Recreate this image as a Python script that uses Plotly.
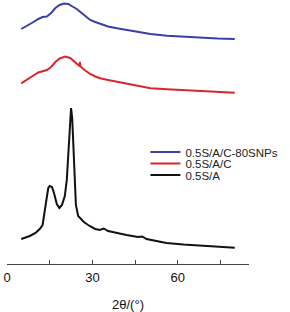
import plotly.graph_objects as go

# ---- data (intensities in arbitrary, offset units) ----
x_blue = [5, 7, 9, 11, 12.5, 14, 15.5, 17, 18.5, 20, 21.5, 23, 24.5, 26, 27.5,
          29.2, 31, 32.7, 35.5, 38.6, 44.4, 50.4, 56.2, 62, 68, 74, 80]
y_blue = [235, 238, 241.5, 245, 247, 247.5, 251, 256, 259, 260.5, 260, 257.5, 255,
          251.5, 248, 244, 242, 240, 237.5, 235.7, 233, 230, 228.3, 227.2, 226.3,
          225.5, 225]

x_red = [5, 7, 9, 11, 12.5, 14, 15.5, 17, 18.5, 20.4, 22.2, 24, 25.4, 25.6, 25.8,
         27.5, 29.2, 31, 32.7, 35.5, 38.6, 44.4, 50.4, 56.2, 62, 68, 74, 80]
y_red = [180.7, 184, 188, 191.5, 193, 194, 197, 202, 205.5, 207.5, 206, 201, 198,
         202, 197.5, 193.5, 190, 187.5, 185.7, 184, 182.3, 179, 175.7, 174.7,
         173.8, 173, 172, 171.3]

x_black = [5, 8, 10, 11.5, 12.5, 13.3, 14, 14.5, 15, 15.8, 16.5, 17.5, 18.4, 19.3,
           20.3, 21, 21.7, 22.2, 22.5, 22.9, 23.3, 23.7, 24.2, 25, 27, 29, 31,
           32.5, 34, 35.5, 38.6, 42, 46, 47.5, 49, 56, 62, 68, 75, 80]
y_black = [25, 28, 31, 35, 39, 52, 67, 76, 78, 77, 71, 60, 56, 59, 68, 84, 119,
           146, 156, 146, 114, 79, 59, 48, 42, 38, 35, 34, 35.5, 33, 31, 29, 27, 27.5,
           25, 21, 19.5, 18.3, 17, 16.3]

names = ["0.5S/A/C-80SNPs", "0.5S/A/C", "0.5S/A"]
tick_vals = [0, 15, 30, 45, 60, 75]
tick_text = ["0", "", "30", "", "60", ""]
x_title = "2θ/(°)"

fig = go.Figure()
fig.add_trace(go.Scatter(x=x_blue, y=y_blue, mode="lines", name=names[0],
                         line=dict(color="#3b3fa6", width=2), legend="legend",
                         showlegend=True))
fig.add_trace(go.Scatter(x=x_red, y=y_red, mode="lines", name=names[1],
                         line=dict(color="#d9262c", width=2), legend="legend2",
                         showlegend=True))
fig.add_trace(go.Scatter(x=x_black, y=y_black, mode="lines", name=names[2],
                         line=dict(color="#111111", width=2), legend="legend3",
                         showlegend=True))

leg_common = dict(x=0.572, xanchor="left", yanchor="middle",
                  bgcolor="rgba(0,0,0,0)", borderwidth=0,
                  font=dict(family="Liberation Sans, Arial", size=11.5, color="#222"),
                  itemwidth=30, visible=True)
fig.update_layout(
    width=290, height=312,
    margin=dict(l=7, r=41, t=0, b=48),
    showlegend=True,
    paper_bgcolor="white", plot_bgcolor="white",
    font=dict(family="Liberation Sans, Arial", color="#111"),
    legend=dict(y=(264 - 152) / 264, **leg_common),
    legend2=dict(y=(264 - 163.5) / 264, **leg_common),
    legend3=dict(y=(264 - 175) / 264, **leg_common),
    xaxis=dict(range=[0, 85], showgrid=False, zeroline=False,
               showline=True, linecolor="#444", linewidth=1,
               ticks="inside", ticklen=4, tickcolor="#444",
               tickvals=tick_vals, ticktext=tick_text,
               tickfont=dict(size=13, color="#111"),
               ticklabelstandoff=1,
               title=dict(text=x_title, font=dict(size=13, color="#111"),
                          standoff=17)),
    yaxis=dict(range=[0, 264], visible=False),
)

fig.write_html("out.html")
